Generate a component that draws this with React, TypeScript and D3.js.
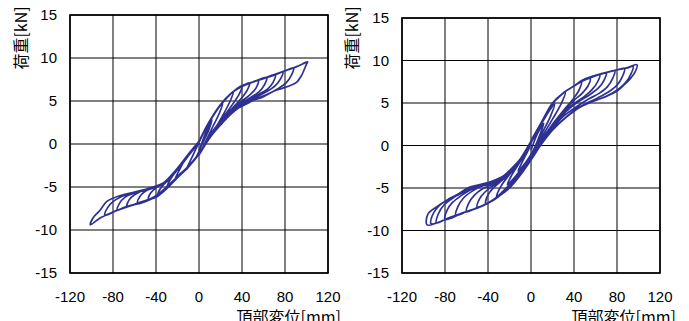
import { scaleLinear, line as d3_line, curveCatmullRom } from "d3"

type Pt = [number, number]

const xTicks = [-120, -80, -40, 0, 40, 80, 120]
const yTicks = [-15, -10, -5, 0, 5, 10, 15]
const xTitle = "頂部変位[mm]"
const yTitle = "荷重[kN]"

// 左：各サイクル（正側載荷→除荷→負側載荷→除荷）
const leftLoops: Pt[][] = [
  [[0, -0.8], [6, 1.2], [12, 2.8], [9, 1.6], [3, 0], [-3, -1.6], [-8, -2.4], [-12, -3.0], [-9, -2.2], [-3, -0.6], [0, 0.2]],
  [[0, 0.2], [10, 2.6], [17, 4.0], [22, 4.7], [19, 3.6], [12, 1.8], [5, 0], [0, -1.2], [-10, -2.6], [-17, -3.4], [-22, -4.0], [-19, -3.2], [-12, -1.6], [-5, -0.5], [0, 0.3]],
  [[0, 0.3], [10, 2.6], [20, 4.5], [27, 5.5], [32, 6.1], [29, 5.0], [22, 3.3], [12, 1.2], [0, -1.1], [-10, -2.6], [-20, -3.8], [-26, -4.5], [-30, -5.0], [-27, -4.2], [-20, -2.9], [-10, -1.3], [0, 0.3]],
  [[0, 0.3], [10, 2.7], [20, 4.5], [30, 5.9], [40, 6.7], [37, 5.7], [30, 4.4], [20, 2.7], [10, 1.0], [0, -1.1], [-10, -2.6], [-20, -3.8], [-30, -5.0], [-38, -5.8], [-35, -5.0], [-27, -4.0], [-20, -3.0], [-10, -1.4], [0, 0.2]],
  [[0, 0.2], [10, 2.6], [20, 4.5], [30, 5.9], [40, 6.7], [47, 7.1], [45, 6.3], [40, 5.4], [32, 4.3], [20, 2.6], [10, 0.9], [0, -1.1], [-10, -2.6], [-20, -3.9], [-30, -5.0], [-40, -6.0], [-47, -6.4], [-45, -5.7], [-40, -5.1], [-32, -4.5], [-20, -3.0], [-10, -1.4], [0, 0.2]],
  [[0, 0.2], [10, 2.6], [20, 4.5], [30, 5.9], [40, 6.7], [48, 7.1], [55, 7.4], [53, 6.5], [48, 5.8], [40, 5.0], [32, 4.2], [20, 2.5], [10, 0.9], [0, -1.1], [-10, -2.7], [-20, -3.9], [-30, -5.0], [-40, -6.0], [-50, -6.6], [-57, -6.8], [-55, -6.1], [-50, -5.5], [-42, -5.0], [-32, -4.5], [-20, -3.0], [-10, -1.4], [0, 0.2]],
  [[0, 0.2], [10, 2.6], [20, 4.5], [30, 5.9], [40, 6.7], [50, 7.2], [63, 7.75], [61, 6.9], [56, 6.1], [48, 5.4], [40, 4.8], [30, 3.9], [20, 2.5], [10, 0.9], [0, -1.1], [-10, -2.7], [-20, -3.9], [-30, -5.1], [-40, -6.1], [-50, -6.6], [-60, -7.0], [-67, -7.3], [-65, -6.5], [-60, -5.9], [-52, -5.4], [-42, -5.0], [-32, -4.5], [-20, -3.0], [-10, -1.4], [0, 0.2]],
  [[0, 0.2], [10, 2.6], [20, 4.5], [30, 5.9], [40, 6.7], [50, 7.2], [60, 7.6], [71, 8.05], [69, 7.2], [64, 6.4], [56, 5.8], [47, 5.1], [38, 4.5], [30, 3.8], [20, 2.4], [10, 0.8], [0, -1.1], [-10, -2.7], [-20, -3.9], [-30, -5.1], [-40, -6.1], [-50, -6.6], [-60, -7.0], [-70, -7.4], [-76, -7.7], [-74, -6.9], [-69, -6.2], [-60, -5.7], [-50, -5.3], [-40, -4.9], [-30, -4.4], [-20, -3.0], [-10, -1.4], [0, 0.2]],
  [[0, 0.2], [10, 2.6], [20, 4.5], [30, 5.9], [40, 6.7], [50, 7.2], [60, 7.6], [70, 8.0], [78, 8.4], [76, 7.6], [71, 6.8], [63, 6.1], [54, 5.5], [45, 4.9], [37, 4.3], [30, 3.7], [20, 2.4], [10, 0.8], [0, -1.2], [-10, -2.7], [-20, -3.9], [-30, -5.1], [-40, -6.1], [-50, -6.7], [-64, -7.2], [-76, -7.7], [-87.5, -8.3], [-85, -7.4], [-80, -6.7], [-72, -6.1], [-60, -5.6], [-48, -5.2], [-38, -4.8], [-30, -4.3], [-20, -2.9], [-10, -1.3], [0, 0.3]],
  [[0, 0.3], [10, 2.6], [20, 4.5], [30, 5.9], [40, 6.7], [50, 7.2], [60, 7.6], [70, 8.0], [80, 8.5], [88, 8.85], [86, 8.0], [81, 7.1], [73, 6.4], [64, 5.8], [54, 5.3], [45, 4.7], [37, 4.2], [30, 3.6], [20, 2.3], [10, 0.8], [0, -1.2], [-10, -2.7], [-20, -3.9], [-30, -5.2], [-40, -6.2], [-48, -6.5], [-64, -7.2], [-80, -7.9], [-92, -8.6], [-101, -9.4], [-98.6, -8.6], [-92, -7.7], [-86, -6.7], [-80, -6.3], [-64, -5.7], [-48, -5.35], [-33.5, -4.55], [-20, -2.8], [-10, -1.2], [0, 0.3]],
  [[0, 0.3], [10, 2.7], [20, 4.6], [30, 5.9], [40, 6.8], [50, 7.2], [66, 7.9], [80, 8.5], [91, 9.0], [101, 9.55], [100, 9.3], [95.5, 8.0], [91, 7.2], [85, 6.8], [78, 6.5], [69, 6.1], [60, 5.5], [47, 4.9], [38, 4.3], [30, 3.5], [20, 2.2], [10, 0.7], [0, -1.3]],
]

// 右
const rightLoops: Pt[][] = [
  [[0, -0.6], [6, 1.4], [12, 2.6], [8, 1.2], [2, -0.6], [-5, -2.0], [-12, -3.0], [-8, -1.9], [-2, -0.4], [0, 0.3]],
  [[0, 0.3], [10, 2.6], [17, 4.1], [22, 4.9], [18, 3.4], [10, 1.4], [0, -1.1], [-10, -2.9], [-17, -4.0], [-22, -4.6], [-18, -3.5], [-10, -1.9], [0, 0.3]],
  [[0, 0.4], [10, 2.7], [20, 4.9], [27, 5.8], [32, 6.3], [28, 4.9], [20, 3.1], [10, 1.0], [0, -1.3], [-10, -3.1], [-20, -4.6], [-27, -5.5], [-32, -6.0], [-28, -4.8], [-20, -3.4], [-10, -1.8], [0, 0.4]],
  [[0, 0.5], [10, 2.8], [20, 5.0], [30, 6.2], [40, 7.0], [47, 7.55], [45, 6.6], [40, 5.6], [32, 4.4], [20, 2.5], [10, 0.7], [0, -1.4], [-10, -3.2], [-20, -4.8], [-30, -5.9], [-42, -6.8], [-40, -5.8], [-35, -5.0], [-26, -4.0], [-18, -3.0], [-10, -1.7], [0, 0.4]],
  [[0, 0.4], [10, 2.8], [20, 5.0], [30, 6.2], [40, 7.0], [48, 7.6], [55, 7.9], [53, 7.0], [48, 6.2], [40, 5.3], [32, 4.3], [20, 2.4], [10, 0.6], [0, -1.5], [-10, -3.3], [-20, -4.8], [-30, -6.0], [-40, -6.8], [-50, -7.3], [-48, -6.3], [-43, -5.5], [-35, -4.7], [-26, -3.9], [-18, -3.0], [-10, -1.7], [0, 0.4]],
  [[0, 0.4], [10, 2.8], [20, 5.0], [30, 6.2], [40, 7.0], [48, 7.6], [56, 8.0], [64, 8.35], [62, 7.5], [57, 6.6], [50, 5.8], [42, 5.1], [33, 4.2], [20, 2.3], [10, 0.5], [0, -1.5], [-10, -3.3], [-20, -4.8], [-31, -6.1], [-40, -6.8], [-50, -7.3], [-60, -7.8], [-58, -6.8], [-53, -5.9], [-45, -5.1], [-36, -4.6], [-26, -3.8], [-18, -3.0], [-10, -1.7], [0, 0.4]],
  [[0, 0.4], [10, 2.8], [20, 5.0], [30, 6.2], [40, 7.0], [48, 7.6], [56, 8.0], [64, 8.35], [70, 8.55], [68, 7.7], [63, 6.8], [55, 6.0], [46, 5.3], [37, 4.5], [28, 3.4], [20, 2.2], [10, 0.4], [0, -1.6], [-10, -3.4], [-20, -4.9], [-31, -6.1], [-47, -7.2], [-60, -7.8], [-70, -8.2], [-68, -7.2], [-63, -6.2], [-55, -5.4], [-46, -4.8], [-37, -4.5], [-26, -3.7], [-18, -2.9], [-10, -1.6], [0, 0.5]],
  [[0, 0.5], [10, 2.8], [20, 5.0], [30, 6.2], [40, 7.0], [48, 7.6], [64, 8.35], [70, 8.55], [78, 8.8], [76, 7.9], [71, 6.9], [63, 6.1], [54, 5.5], [45, 4.8], [36, 4.0], [28, 3.2], [20, 2.0], [10, 0.3], [0, -1.6], [-10, -3.4], [-20, -4.9], [-31, -6.1], [-47, -7.2], [-63, -7.9], [-80, -8.7], [-78, -7.6], [-73, -6.7], [-65, -5.9], [-56, -5.2], [-46, -4.7], [-37, -4.4], [-26, -3.7], [-18, -2.8], [-10, -1.6], [0, 0.5]],
  [[0, 0.5], [10, 2.8], [20, 5.0], [30, 6.2], [40, 7.0], [48, 7.6], [64, 8.35], [80, 8.9], [87, 9.05], [85, 8.1], [80, 7.1], [72, 6.3], [62, 5.6], [52, 5.0], [43, 4.4], [34, 3.5], [20, 1.9], [10, 0.3], [0, -1.6], [-10, -3.4], [-20, -4.9], [-31.6, -6.1], [-47.5, -7.2], [-63, -7.9], [-78, -8.6], [-88, -9.1], [-86, -8.0], [-81, -7.0], [-73, -6.2], [-63, -5.5], [-52, -4.8], [-41, -4.4], [-26, -3.6], [-18, -2.7], [-10, -1.6], [0, 0.5]],
  [[0, 0.5], [10, 2.8], [20, 5.0], [30, 6.2], [40, 7.0], [48, 7.6], [64, 8.35], [80, 8.9], [89, 9.1], [95, 9.3], [93, 8.4], [88, 7.4], [80, 6.5], [70, 5.8], [58, 5.2], [45.5, 4.5], [33.5, 3.4], [20, 1.9], [10, 0.3], [0, -1.6], [-10, -3.4], [-20, -4.9], [-31.6, -6.1], [-47.5, -7.2], [-63, -7.9], [-78, -8.6], [-87.5, -9.1], [-93, -9.2], [-92, -8.3], [-87, -7.3], [-78, -6.4], [-69, -5.8], [-57, -4.9], [-41, -4.4], [-26, -3.6], [-10, -1.6], [0, 0.5]],
  [[0, 0.5], [10, 2.8], [20, 5.0], [30, 6.2], [40, 7.0], [48, 7.7], [64, 8.4], [80, 8.9], [89, 9.15], [98.6, 9.5], [97, 8.7], [92, 7.8], [85.5, 7.0], [80, 6.4], [70.5, 5.8], [58, 5.2], [45.5, 4.5], [33.5, 3.4], [20, 1.8], [10, 0.2], [0, -1.7], [-10, -3.5], [-20, -5.0], [-31.6, -6.1], [-47.5, -7.2], [-63, -7.9], [-78, -8.6], [-87.5, -9.1], [-96.7, -9.35], [-96, -8.1], [-87.5, -7.2], [-78, -6.4], [-69, -5.8], [-57, -4.9], [-41, -4.4], [-26, -3.6], [-10, -1.6], [0, 0.4]],
]

const FONT = "'Liberation Sans', Arial, sans-serif"
const CJK = "'Noto Sans CJK JP', sans-serif"
const LINE_COLOR = "#2e3192"

interface PanelProps {
  loops: Pt[][]
  x0: number
  x1: number
  y0: number
  y1: number
  yTitleX: number
  xTitleEnd: number
}

function Panel({ loops, x0, x1, y0, y1, yTitleX, xTitleEnd }: PanelProps) {
  const x = scaleLinear().domain([-120, 120]).range([x0, x1])
  const y = scaleLinear().domain([-15, 15]).range([y1, y0])

  const line = d3_line<Pt>()
    .x((d) => x(d[0]))
    .y((d) => y(d[1]))
    .curve(curveCatmullRom.alpha(0.5))

  const pathData = line(loops.flat()) ?? ""

  return (
    <g>
      {/* グリッド */}
      {xTicks.map((t) => (
        <line key={"gx" + t} x1={x(t)} x2={x(t)} y1={y0} y2={y1} stroke="#000" strokeWidth={1} />
      ))}
      {yTicks.map((t) => (
        <line key={"gy" + t} x1={x0} x2={x1} y1={y(t)} y2={y(t)} stroke="#000" strokeWidth={1} />
      ))}
      <rect x={x0} y={y0} width={x1 - x0} height={y1 - y0} fill="none" stroke="#000" strokeWidth={1.6} />

      {/* 履歴曲線 */}
      <path d={pathData} fill="none" stroke={LINE_COLOR} strokeWidth={1.7} strokeLinejoin="round" />

      {/* 目盛 */}
      {yTicks.map((t) => (
        <text key={"ty" + t} x={x0 - 13} y={y(t)} dy="0.36em" textAnchor="end" fontFamily={FONT} fontSize={15} fill="#000">
          {t}
        </text>
      ))}
      {xTicks.map((t) => (
        <text key={"tx" + t} x={x(t)} y={302} textAnchor="middle" fontFamily={FONT} fontSize={15} fill="#000">
          {t}
        </text>
      ))}

      <text x={xTitleEnd} y={323} textAnchor="end" fontFamily={CJK} fontSize={16} fill="#000">
        {xTitle}
      </text>
      <text
        transform={`translate(${yTitleX},38) rotate(-90)`}
        textAnchor="middle"
        dominantBaseline="central"
        fontFamily={CJK}
        fontSize={16}
        fill="#000"
      >
        {yTitle}
      </text>
    </g>
  )
}

export default function App() {
  return (
    <svg width={689} height={321} style={{ position: "absolute", left: 0, top: 0, background: "#fff" }}>
      <rect width={689} height={321} fill="#fff" />
      <Panel loops={leftLoops} x0={70} x1={328} y0={15} y1={273} yTitleX={20} xTitleEnd={341} />
      <Panel loops={rightLoops} x0={402} x1={660} y0={18} y1={273} yTitleX={351} xTitleEnd={676} />
    </svg>
  )
}
